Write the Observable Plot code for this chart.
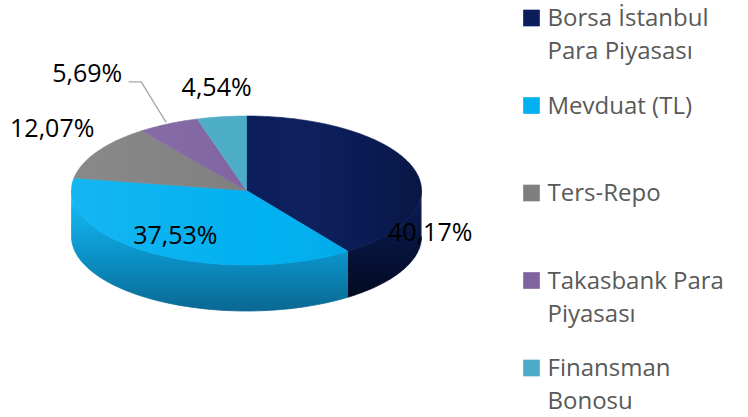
<!DOCTYPE html>
<html>
<head>
<meta charset="utf-8">
<script src="https://cdn.jsdelivr.net/npm/d3@7"></script>
<script src="https://cdn.jsdelivr.net/npm/@observablehq/plot@0.6"></script>
<style>
  html, body { margin: 0; padding: 0; background: #ffffff; }
  #chart { width: 748px; height: 417px; }
</style>
</head>
<body>
<div id="chart"></div>
<script>
// ---- data ----
const categories = ["Borsa İstanbul Para Piyasası", "Mevduat (TL)", "Ters-Repo", "Takasbank Para Piyasası", "Finansman Bonosu"];
const shares = [40.17, 37.53, 12.07, 5.69, 4.54];
const shareLabels = ["40,17%", "37,53%", "12,07%", "5,69%", "4,54%"];
const colors = ["#0b1e5b", "#00b0f0", "#7f7f7f", "#8064a2", "#4bacc6"];

// ---- layout (styling constants) ----
const W = 748, H = 417;
const cx = 246, cy = 190, rx = 175, ry = 74.5, depth = 46;
const FONT = "'Open Sans', 'DejaVu Sans', sans-serif";
const labelFont = 25, legendFont = 24, legendLine = 33;
const legendX = 531, legendTextX = 547, legendTop = 17.5, legendGap = 87.5, legendTextShift = -15;
// label nudges relative to the rim point at each slice's mid angle
const labelNudge = [[17, 65], [22, -18], [-45, -23], [-81, -50], [-5, -29]];

const total = d3.sum(shares);
let acc = 0;
const slices = categories.map((c, i) => {
  const a0 = acc / total * 2 * Math.PI;
  acc += shares[i];
  const a1 = acc / total * 2 * Math.PI;
  return {c, i, a0, a1, mid: (a0 + a1) / 2};
});
const pt = (a, dy = 0, k = 1) => [cx + rx * k * Math.sin(a), cy - ry * k * Math.cos(a) + dy];
const arc = (a0, a1) => {
  const n = Math.max(2, Math.ceil((a1 - a0) / (Math.PI / 180)));
  return d3.range(n + 1).map(j => a0 + (a1 - a0) * j / n);
};

// top faces
const topFaces = slices.flatMap(s => [
  {c: s.c, p: [cx, cy]},
  ...arc(s.a0, s.a1).map(a => ({c: s.c, p: pt(a)})),
  {c: s.c, p: [cx, cy]}
]);
// whole top ellipse (for a light shading overlay)
const topEllipse = arc(0, 2 * Math.PI).map(a => pt(a));

// visible side walls (front half)
const sides = slices.map(s => {
  const b0 = Math.max(s.a0, Math.PI / 2), b1 = Math.min(s.a1, 1.5 * Math.PI);
  if (b1 <= b0) return null;
  const as = arc(b0, b1);
  return {i: s.i, pts: [...as.map(a => pt(a)), ...as.slice().reverse().map(a => pt(a, depth))]};
}).filter(Boolean);

// shadow
const shadow = d3.range(0, 361, 3).map(deg => {
  const a = deg * Math.PI / 180;
  return [262 + 178 * Math.sin(a), 306 - 20 * Math.cos(a)];
});

// labels
const labelPos = slices.map(s => {
  const r = pt(s.mid);
  return {i: s.i, x: r[0] + labelNudge[s.i][0], y: r[1] + labelNudge[s.i][1]};
});
// leader line for the small Takasbank slice
const lead = labelPos[3];
const leaderPts = [[lead.x + 42, lead.y + 8], [lead.x + 54, lead.y + 8], pt(slices[3].mid, 0, 1.03)];

// legend wrapping
const ctx = document.createElement("canvas").getContext("2d");
ctx.font = `${legendFont}px ${FONT}`;
function wrap(text, maxW) {
  const words = text.split(" ");
  const lines = [];
  let line = "";
  for (const w of words) {
    const t = line ? line + " " + w : w;
    if (line && ctx.measureText(t).width > maxW) { lines.push(line); line = w; }
    else line = t;
  }
  if (line) lines.push(line);
  return lines.join("\n");
}

const sideMarks = sides.map(sd => Plot.line(sd.pts, {
  x: d => d[0], y: d => d[1], fill: `url(#side${sd.i})`, stroke: `url(#side${sd.i})`, strokeWidth: 0.8
}));

const plot = Plot.plot({
  width: W, height: H, margin: 0,
  style: {background: "#ffffff", fontFamily: FONT},
  x: {domain: [0, W], range: [0, W], axis: null},
  y: {domain: [0, H], range: [0, H], axis: null},
  color: {domain: categories, range: colors},
  marks: [
    Plot.line(shadow, {x: d => d[0], y: d => d[1], fill: "#d6d6d6", stroke: "none", ariaLabel: "shadow"}),
    ...sideMarks,
    Plot.line(topFaces, {x: d => d.p[0], y: d => d.p[1], z: "c", fill: "c", stroke: "c", strokeWidth: 0.6}),
    Plot.line(topEllipse, {x: d => d[0], y: d => d[1], fill: "url(#topShade)", stroke: "none"}),
    Plot.line(leaderPts, {x: d => d[0], y: d => d[1], stroke: "#a6a6a6", strokeWidth: 1.3, strokeLinejoin: "miter"}),
    Plot.text(labelPos, {x: "x", y: "y", text: d => shareLabels[d.i], fontSize: labelFont, fill: "#000000", textAnchor: "middle", fontFamily: FONT}),
    Plot.dot(categories, {x: () => legendX, y: (d, i) => legendTop + legendGap * i, symbol: "square", r: 9.4, fill: d => d, stroke: "none"}),
    Plot.text(categories, {
      x: () => legendTextX, y: (d, i) => legendTop + legendGap * i + legendTextShift,
      text: d => wrap(d, 200), textAnchor: "start", lineAnchor: "top",
      lineHeight: legendLine / legendFont, fontSize: legendFont, fill: "#595959", fontFamily: FONT
    })
  ]
});

// gradients for the 3D side walls and the top shading
const defs = d3.select(plot).insert("defs", ":first-child");
const grads = {
  side0: [[0, "#16296b"], [0.18, "#0a1a4d"], [1, "#020a22"]],
  side1: [[0, "#4fd0f8"], [0.14, "#14b4ee"], [0.6, "#0a8dc2"], [1, "#0a6892"]]
};
for (const [id, stops] of Object.entries(grads)) {
  const g = defs.append("linearGradient").attr("id", id)
    .attr("x1", 0).attr("y1", 0).attr("x2", 0).attr("y2", 1);
  for (const [o, c] of stops) g.append("stop").attr("offset", o).attr("stop-color", c);
}
const ts = defs.append("linearGradient").attr("id", "topShade")
  .attr("x1", 0).attr("y1", 0).attr("x2", 1).attr("y2", 0);
ts.append("stop").attr("offset", 0).attr("stop-color", "#ffffff").attr("stop-opacity", 0.08);
ts.append("stop").attr("offset", 0.55).attr("stop-color", "#ffffff").attr("stop-opacity", 0);
ts.append("stop").attr("offset", 0.8).attr("stop-color", "#000000").attr("stop-opacity", 0.05);
ts.append("stop").attr("offset", 1).attr("stop-color", "#000000").attr("stop-opacity", 0.25);
d3.select(plot).select('g[aria-label="shadow"]').style("filter", "blur(7px)");

document.getElementById("chart").appendChild(plot);
</script>
</body>
</html>
